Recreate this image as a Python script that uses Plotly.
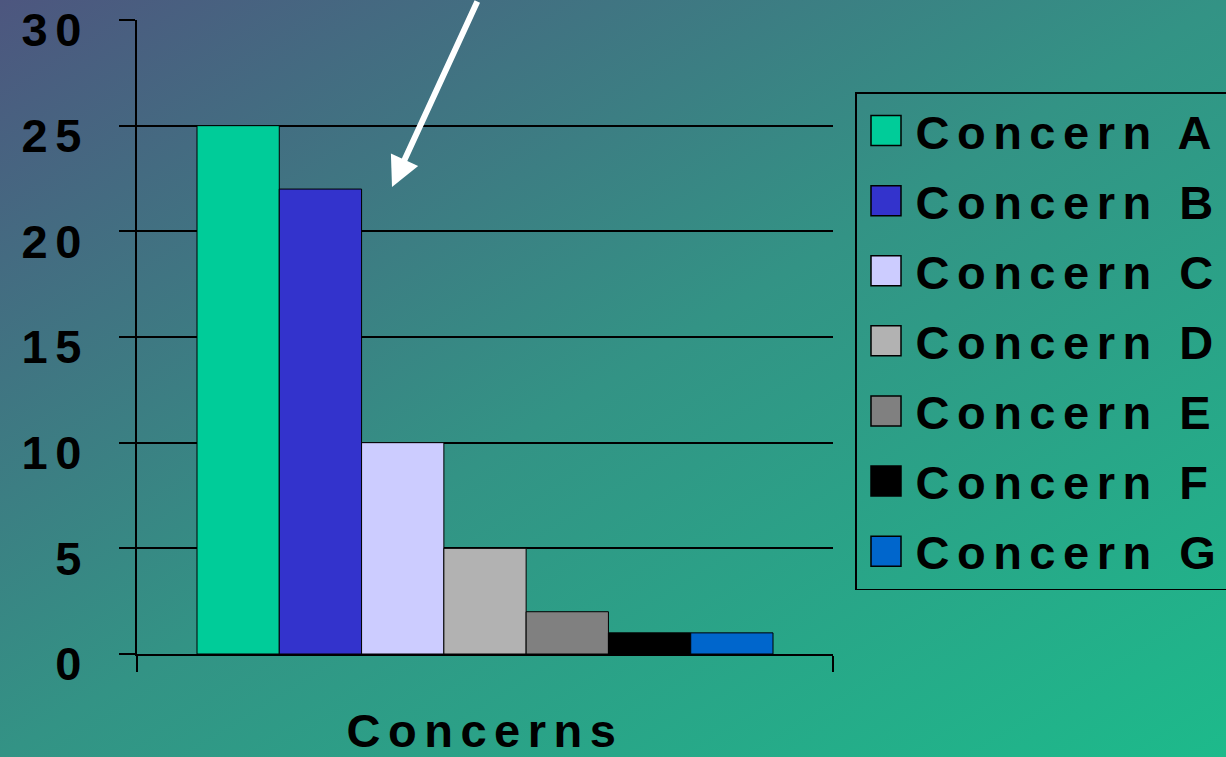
import plotly.graph_objects as go
import urllib.parse

# ---- data ----
categories = ["Concerns"]
series_names = ["Concern A", "Concern B", "Concern C", "Concern D",
                "Concern E", "Concern F", "Concern G"]
series_values = [25, 22, 10, 5, 2, 1, 1]
series_colors = ["#00CC99", "#3333CC", "#CCCCFF", "#B2B2B2",
                 "#808080", "#000000", "#0066CC"]
y_tickvals = [0, 5, 10, 15, 20, 25, 30]
y_ticktext = ["0", "5", "10", "15", "20", "25", "30"]

W, H = 1226, 757
ML, MR, MT, MB = 137, 393, 20, 103
PW, PH = W - ML - MR, H - MT - MB

FONT = "Liberation Sans, Arial, sans-serif"
LS = "letter-spacing:7.5px"


def spaced(s):
    return f'<span style="{LS}">{s}</span>'


fig = go.Figure()
for name, val, col in zip(series_names, series_values, series_colors):
    fig.add_trace(go.Bar(
        x=categories, y=[val], name=spaced(name), legendgroup=name,
        marker=dict(color=col, line=dict(color="#000000", width=1)),
    ))

# gradient background as an SVG image
svg = (
    '<svg xmlns="http://www.w3.org/2000/svg" width="1226" height="757" preserveAspectRatio="none">'
    '<defs><linearGradient id="g" x1="0" y1="0" x2="1" y2="1">'
    '<stop offset="0" stop-color="#4D567F"/>'
    '<stop offset="0.5" stop-color="#339385"/>'
    '<stop offset="1" stop-color="#1DBA8B"/>'
    '</linearGradient></defs>'
    '<rect width="1226" height="757" fill="url(#g)"/></svg>'
)
src = "data:image/svg+xml;charset=utf-8," + urllib.parse.quote(svg)

fig.update_layout(
    width=W, height=H,
    margin=dict(l=ML, r=MR, t=MT, b=MB, pad=0, autoexpand=False),
    paper_bgcolor="#3A8A80",
    plot_bgcolor="rgba(0,0,0,0)",
    barmode="group", bargap=0.1724, bargroupgap=0,
    font=dict(family=FONT, size=47, color="#000000"),
    images=[dict(source=src, xref="paper", yref="paper",
                 x=-ML / PW, y=1 + MT / PH, sizex=W / PW, sizey=H / PH,
                 xanchor="left", yanchor="top", sizing="stretch",
                 layer="below")],
    legend=dict(
        xref="container", yref="container",
        x=855 / W, y=1 - 92 / H, xanchor="left", yanchor="top",
        bordercolor="#000000", borderwidth=1.5, bgcolor="rgba(0,0,0,0)",
        font=dict(family=FONT, size=47, color="#000000", weight="bold"),
        tracegroupgap=6, itemwidth=49, maxheight=757,
    ),
    showlegend=True,
    annotations=[dict(
        xref="paper", yref="paper",
        x=(392 - ML) / PW, y=1 - (187 - MT) / PH,
        ax=86, ay=-195, axref="pixel", ayref="pixel",
        text="", showarrow=True, arrowcolor="#FFFFFF",
        arrowwidth=6, arrowhead=2, arrowsize=1.0, standoff=0,
    )],
)

fig.update_xaxes(
    type="category", range=[-0.5, 0.5], tickson="boundaries",
    ticks="outside", ticklen=16, tickcolor="#000000", tickwidth=1.5,
    showticklabels=False, showline=True, linecolor="#000000", linewidth=1.5,
    showgrid=False, zeroline=False, automargin=False,
    title=dict(text=spaced("Concerns"), standoff=71,
               font=dict(family=FONT, size=47, color="#000000", weight="bold")),
)
fig.update_yaxes(
    range=[0, 30], tickvals=y_tickvals,
    ticktext=[spaced(t) for t in y_ticktext],
    ticks="outside", ticklen=16, tickcolor="#000000", tickwidth=1.5,
    tickfont=dict(family=FONT, size=47, color="#000000", weight="bold"),
    ticklabelstandoff=21, ticklabelshift=10, ticklabeloverflow="allow",
    showline=True, linecolor="#000000", linewidth=1.5, automargin=False,
    showgrid=True, gridcolor="#000000", gridwidth=1.5, zeroline=False,
)

post = """
function fixSwatches() {
  var ps = document.querySelectorAll('g.legendpoints path');
  ps.forEach(function (p) {
    if (p.getAttribute('data-big')) return;
    var t = p.getAttribute('transform') || '';
    p.setAttribute('transform', t + ' scale(2.5)');
    p.style.strokeWidth = '0.6px';
    p.setAttribute('data-big', '1');
  });
}
fixSwatches();
setTimeout(fixSwatches, 50);
setTimeout(fixSwatches, 300);
"""

fig.write_html("out.html", post_script=post)
